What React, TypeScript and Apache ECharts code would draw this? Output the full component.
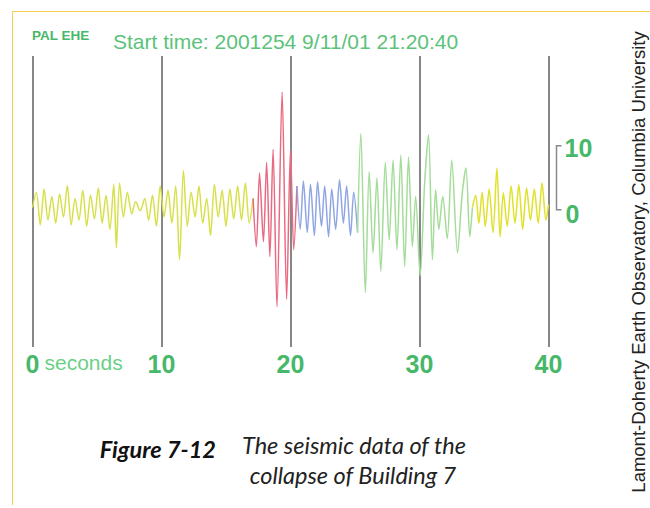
import React, { useEffect, useRef } from "react";
import * as echarts from "echarts";

// seconds on the horizontal axis
const xTicks = [0, 10, 20, 30, 40];

// trace segments: [seconds, amplitude]
const yellowEarly: [number, number][] = [
  [0.0, 0], [0.3, 2.5], [0.6, -2.8], [0.9, 3.0], [1.2, -2.0], [1.5, 1.8], [1.8, -2.5],
  [2.1, 2.2], [2.4, -1.5], [2.7, 3.6], [3.0, -2.8], [3.3, 1.5], [3.6, -2.0], [3.9, 2.8],
  [4.2, -3.0], [4.5, 2.0], [4.8, -1.8], [5.1, 3.2], [5.4, -2.5], [5.7, 2.0], [6.0, -3.5],
  [6.3, 3.8], [6.5, -6.5], [6.75, 4.0], [7.05, -1.5], [7.35, 2.5], [7.7, -1.0], [8.0, 1.0],
  [8.35, -0.5], [8.7, 1.5], [9.0, -2.0], [9.3, 2.0], [9.6, -3.0], [9.9, 3.5], [10.2, -1.5],
  [10.5, 2.8], [10.8, -2.5], [11.1, 3.5], [11.4, -8.4], [11.7, 6.0], [12.0, -3.0],
  [12.3, 2.5], [12.6, -1.5], [12.9, 3.5], [13.2, -2.5], [13.5, 1.5], [13.8, -4.5],
  [14.1, 3.8], [14.4, -1.5], [14.7, 2.8], [15.0, -3.0], [15.3, 3.0], [15.6, -1.8],
  [15.9, 3.5], [16.2, -2.0], [16.5, 4.0], [16.8, -2.5], [17.1, 1.5],
];

const redBurst: [number, number][] = [
  [17.1, 1.5], [17.35, -6.3], [17.6, 5.6], [17.9, -5.5], [18.15, 7.3], [18.4, -7.9],
  [18.65, 9.4], [18.95, -16.0], [19.35, 18.7], [19.7, -14.8], [20.0, 9.4], [20.25, -6.8],
  [20.5, 3.5],
];

const blueCoda: [number, number][] = [
  [20.5, 3.5], [20.75, -3.5], [21.0, 4.3], [21.3, -4.0], [21.55, 3.8], [21.85, -4.5],
  [22.1, 4.2], [22.4, -3.0], [22.65, 3.5], [22.95, -4.7], [23.2, 3.0], [23.5, -3.5],
  [23.8, 4.5], [24.1, -2.5], [24.35, 3.5], [24.65, -4.5], [24.9, 2.5], [25.2, -4.0],
];

const greenWaves: [number, number][] = [
  [25.2, -4.0], [25.45, 12.0], [25.8, -13.7], [26.1, 5.8], [26.4, -7.3], [26.7, 4.8],
  [27.0, -10.3], [27.35, 7.3], [27.65, -5.2], [27.95, 7.7], [28.25, -6.8], [28.55, 8.5],
  [28.85, -9.5], [29.15, 8.2], [29.45, -6.3], [29.7, 1.8], [30.05, -11.0], [30.4, 4.0],
  [30.7, 11.8], [31.0, -8.4], [31.25, 2.9], [31.5, -3.5], [31.8, 1.8], [32.15, -5.0],
  [32.5, 7.7], [32.95, -7.3], [33.3, 2.0], [33.6, 6.4], [33.9, -4.7], [34.1, 0],
];

const yellowLate: [number, number][] = [
  [34.1, 0], [34.35, 2.0], [34.6, -2.5], [34.85, 2.5], [35.1, -3.0], [35.4, 3.0],
  [35.7, -4.0], [36.0, 6.4], [36.25, -4.7], [36.5, 2.4], [36.8, -3.0], [37.1, 3.5],
  [37.4, -2.5], [37.7, 3.7], [38.0, -3.5], [38.3, 3.2], [38.6, -2.0], [38.9, 3.0],
  [39.2, -2.5], [39.5, 4.0], [39.8, -2.0], [40.0, 0.5],
];

const segments = [
  { name: "yellow early", data: yellowEarly, color: "#d7e04a" },
  { name: "red", data: redBurst, color: "#ea6a82" },
  { name: "blue", data: blueCoda, color: "#90a6e4" },
  { name: "green", data: greenWaves, color: "#a4dc9a" },
  { name: "yellow late", data: yellowLate, color: "#dfe12a" },
];

const scaleLabels = [10, 0];

const GREEN = "#47b86a";
const SANS = "'Liberation Sans', Arial, sans-serif";
const CAPTION = "Lato, 'Open Sans', sans-serif";

export default function App() {
  const ref = useRef<HTMLDivElement>(null);

  useEffect(() => {
    if (!ref.current) return;
    const chart = echarts.init(ref.current, undefined, { renderer: "svg" });
    chart.setOption({
      animation: false,
      backgroundColor: "#ffffff",
      grid: { left: 32.5, right: 101.5, top: 56, bottom: 161, containLabel: false },
      xAxis: {
        type: "value",
        min: 0,
        max: 40,
        interval: 10,
        axisLine: { show: false },
        axisTick: { show: false },
        splitLine: { show: true, lineStyle: { color: "#878787", width: 2 } },
        axisLabel: {
          show: true,
          showMinLabel: true,
          showMaxLabel: true,
          margin: 4,
          fontSize: 25,
          fontWeight: "bold",
          fontFamily: SANS,
          color: GREEN,
          formatter: (v: number) => (xTicks.includes(v) ? String(v) : ""),
        },
      },
      yAxis: {
        type: "value",
        min: -22.5,
        max: 24.5,
        show: false,
        splitLine: { show: false },
      },
      series: segments.map((s) => ({
        type: "line",
        name: s.name,
        data: s.data,
        showSymbol: false,
        smooth: 0.3,
        lineStyle: { color: s.color, width: 1.5 },
        z: 3,
      })),
    });

    const x0 = chart.convertToPixel({ xAxisIndex: 0 }, 0) as number;
    const x40 = chart.convertToPixel({ xAxisIndex: 0 }, 40) as number;
    const yTop = chart.convertToPixel({ yAxisIndex: 0 }, scaleLabels[0]) as number;
    const yZero = chart.convertToPixel({ yAxisIndex: 0 }, scaleLabels[1]) as number;
    const bx = x40 + 8;

    const txt = (x: number, y: number, text: string, o: any) => ({
      type: "text",
      x,
      y,
      style: {
        text,
        fontFamily: SANS,
        textAlign: "left",
        textVerticalAlign: "middle",
        ...o,
      },
    });

    chart.setOption({
      graphic: [
        // yellow page border
        { type: "line", shape: { x1: 12.5, y1: 11.5, x2: 650, y2: 11.5 }, style: { stroke: "#f6cc4a", lineWidth: 1 } },
        { type: "line", shape: { x1: 12.5, y1: 11.5, x2: 12.5, y2: 505 }, style: { stroke: "#f6cc4a", lineWidth: 1 } },
        // header
        txt(32, 35, "PAL EHE", { fontSize: 13.5, fontWeight: "bold", fill: GREEN }),
        txt(113, 41, "Start time: 2001254 9/11/01 21:20:40", { fontSize: 21, fill: "#5cc27a" }),
        // "seconds"
        txt(x0 + 12, 362, "seconds", { fontSize: 21, fill: "#6ccf86" }),
        // amplitude scale bracket
        {
          type: "polyline",
          shape: { points: [[bx + 5, yTop], [bx, yTop], [bx, yZero + 2], [bx + 5, yZero + 2]] },
          style: { stroke: "#8a8a8a", lineWidth: 1.5, fill: "none" },
        },
        txt(bx + 8, yTop + 2, String(scaleLabels[0]), { fontSize: 25, fontWeight: "bold", fill: GREEN }),
        txt(bx + 9, yZero + 6, String(scaleLabels[1]), { fontSize: 25, fontWeight: "bold", fill: GREEN }),
        // caption
        txt(216, 449, "Figure 7-12", {
          fontFamily: CAPTION, fontSize: 23.5, fontWeight: "bold", fontStyle: "italic", fill: "#111111", textAlign: "right",
        }),
        txt(354, 445, "The seismic data of the", {
          fontFamily: CAPTION, fontSize: 23.5, fontStyle: "italic", fill: "#222222", textAlign: "center",
        }),
        txt(353, 475, "collapse of Building 7", {
          fontFamily: CAPTION, fontSize: 23.5, fontStyle: "italic", fill: "#222222", textAlign: "center",
        }),
        // credit
        {
          type: "text", x: 638, y: 262, rotation: Math.PI / 2,
          style: { text: "Lamont-Doherty Earth Observatory, Columbia University", fontFamily: SANS, fontSize: 18.5, fill: "#222222", textAlign: "center", textVerticalAlign: "middle" },
        },
      ],
    });

    return () => chart.dispose();
  }, []);

  return (
    <div
      ref={ref}
      style={{ position: "fixed", left: 0, top: 0, width: 650, height: 508 }}
    />
  );
}
